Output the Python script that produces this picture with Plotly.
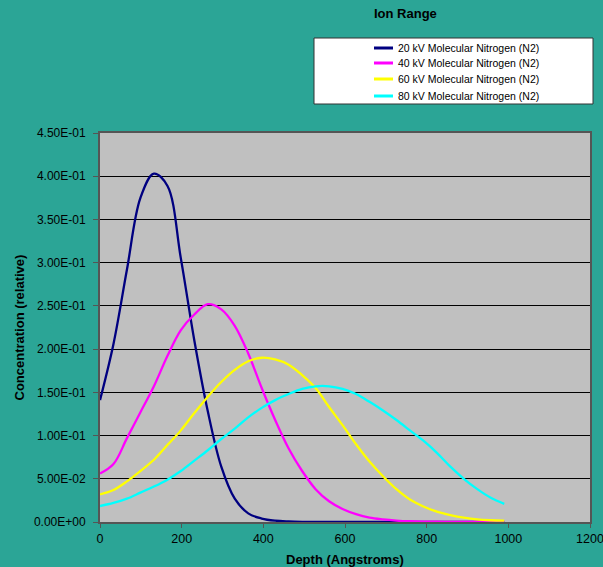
import plotly.graph_objects as go

depth = [0, 33, 66, 99, 132, 165, 198, 231, 264, 297, 330, 363, 396, 429, 462, 495,
         528, 561, 594, 627, 660, 693, 726, 759, 792, 825, 858, 891, 924, 957, 990]

n2_20kv = [0.141, 0.206, 0.292, 0.375, 0.403, 0.389, 0.305, 0.210, 0.128, 0.064, 0.027, 0.010,
           0.004, 0.0015, 0.0006, 0.0002, 0.0001, 0.0001, 0.0, 0.0, 0.0, 0.0, 0.0, 0.0, 0.0,
           0.0, 0.0, 0.0, 0.0, 0.0, 0.0]
n2_40kv = [0.056, 0.067, 0.097, 0.127, 0.157, 0.192, 0.222, 0.240, 0.252, 0.246, 0.227, 0.195,
           0.155, 0.118, 0.085, 0.059, 0.038, 0.024, 0.015, 0.009, 0.005, 0.003, 0.0017, 0.0009,
           0.0005, 0.0003, 0.0002, 0.0001, 0.0001, 0.0, 0.0]
n2_60kv = [0.032, 0.037, 0.047, 0.059, 0.072, 0.089, 0.106, 0.126, 0.145, 0.162, 0.176, 0.186,
           0.190, 0.188, 0.182, 0.170, 0.155, 0.133, 0.112, 0.090, 0.070, 0.053, 0.038, 0.026,
           0.018, 0.012, 0.008, 0.005, 0.003, 0.002, 0.0015]
n2_80kv = [0.0185, 0.022, 0.027, 0.034, 0.041, 0.049, 0.059, 0.071, 0.083, 0.096, 0.108, 0.121,
           0.132, 0.141, 0.148, 0.154, 0.157, 0.157, 0.154, 0.148, 0.139, 0.129, 0.118, 0.106,
           0.094, 0.080, 0.064, 0.050, 0.038, 0.028, 0.021]

series_names = ["20 kV Molecular Nitrogen (N2)", "40 kV Molecular Nitrogen (N2)",
                "60 kV Molecular Nitrogen (N2)", "80 kV Molecular Nitrogen (N2)"]
series_colors = ["#000080", "#FF00FF", "#FFFF00", "#00FFFF"]

y_tick_vals = [0.0, 0.05, 0.10, 0.15, 0.20, 0.25, 0.30, 0.35, 0.40, 0.45]
y_tick_text = ["0.00E+00", "5.00E-02", "1.00E-01", "1.50E-01", "2.00E-01", "2.50E-01",
               "3.00E-01", "3.50E-01", "4.00E-01", "4.50E-01"]
x_tick_vals = [0, 200, 400, 600, 800, 1000, 1200]

W, H = 603, 567
ML, MR, MT, MB = 100, 13, 133, 45
PW, PH = W - ML - MR, H - MT - MB


def px_x(px):
    return (px - ML) / PW


def px_y(py):
    return (H - MB - py) / PH


fig = go.Figure()
for name, ys, col in zip(series_names, [n2_20kv, n2_40kv, n2_60kv, n2_80kv], series_colors):
    fig.add_trace(go.Scatter(x=depth, y=ys, mode="lines", name=name, showlegend=False,
                             line=dict(color=col, width=2.3, shape="spline", smoothing=1.0)))

# legend box, drawn as decoration
shapes = [dict(type="rect", xref="paper", yref="paper",
               x0=px_x(314), x1=px_x(593), y0=px_y(104), y1=px_y(38),
               fillcolor="white", line=dict(color="#333333", width=1))]
annotations = []
legend_rows = [48, 63, 79, 96]
for name, col, row in zip(series_names, series_colors, legend_rows):
    shapes.append(dict(type="line", xref="paper", yref="paper",
                       x0=px_x(374), x1=px_x(393), y0=px_y(row), y1=px_y(row),
                       line=dict(color=col, width=3)))
    annotations.append(dict(text=name, xref="paper", yref="paper", x=px_x(396), y=px_y(row),
                            xanchor="left", yanchor="middle", showarrow=False,
                            font=dict(size=10.5)))

annotations += [
    dict(text="<b>Ion Range</b>", xref="paper", yref="paper", x=px_x(405), y=px_y(14),
         showarrow=False, font=dict(size=13), xanchor="center", yanchor="middle"),
    dict(text="<b>Depth (Angstroms)</b>", xref="paper", yref="paper", x=0.5, y=px_y(559),
         showarrow=False, font=dict(size=13), xanchor="center", yanchor="middle"),
    dict(text="<b>Concentration (relative)</b>", xref="paper", yref="paper", x=px_x(19), y=0.5,
         showarrow=False, font=dict(size=13), xanchor="center", yanchor="middle", textangle=-90),
]

BG = "#2BA596"
fig.update_layout(
    width=W, height=H,
    paper_bgcolor=BG, plot_bgcolor="#C0C0C0",
    margin=dict(l=ML, r=MR, t=MT, b=MB),
    font=dict(family="Arial, Liberation Sans, sans-serif", color="#000000", size=12),
    showlegend=False,
    shapes=shapes,
    annotations=annotations,
    xaxis=dict(range=[0, 1200], tickvals=x_tick_vals, showgrid=False, zeroline=False,
               showline=True, linecolor="#555555", linewidth=2, mirror=True, automargin=False,
               ticklabeloverflow="allow",
               ticks="outside", ticklen=4, tickcolor="#555555", tickfont=dict(size=12.5)),
    yaxis=dict(range=[0, 0.45], tickvals=y_tick_vals, ticktext=y_tick_text,
               showgrid=True, gridcolor="#000000", gridwidth=1, zeroline=False, automargin=False,
               showline=True, linecolor="#555555", linewidth=2, mirror=True,
               ticklabeloverflow="allow", ticklabelstandoff=5,
               ticks="outside", ticklen=5, tickcolor="#555555", tickfont=dict(size=12)),
)

fig.write_html("out.html", config={"displayModeBar": False},
               post_script="document.body.style.margin='0';")
